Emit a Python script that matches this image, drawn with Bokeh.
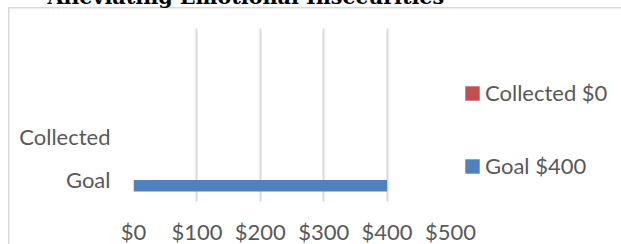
from bokeh.plotting import figure
from bokeh.models import (FactorRange, Range1d, Legend, LegendItem,
                          FixedTicker, ColumnDataSource)
from bokeh.transform import dodge
from bokeh.embed import file_html
from bokeh.resources import INLINE

# ---- data ----
title_text = "Alleviating Emotional Insecurities"
categories = ["Goal", "Collected"]
pad_categories = [" ", "  "]
goal_category = ["Goal"]
goal_amount = [400]
collected_category = ["Collected"]
collected_amount = [0]
goal_legend = "Goal $400"
collected_legend = "Collected $0"
x_ticks = [0, 100, 200, 300, 400, 500]
x_tick_labels = ["$0", "$100", "$200", "$300", "$400", "$500"]

GRAY = "#595959"
FONT = "Lato"
FS = "22px"
BORDER = "#d9d9d9"

p = figure(
    frame_width=317, frame_height=173,
    min_border_left=133, min_border_right=171, min_border_top=72, min_border_bottom=30,
    x_range=Range1d(0, 500),
    y_range=FactorRange(factors=categories + pad_categories, range_padding=0),
    output_backend="svg", toolbar_location=None,
    background_fill_color=None, border_fill_color=None,
)
# chart-area border (top and left edges visible in the window)
p.styles = {
    "margin-top": "-44px",
    "background": (f"linear-gradient({BORDER}, {BORDER}) 8px 51px / 100% 1.5px no-repeat, "
                   f"linear-gradient({BORDER}, {BORDER}) 8px 51px / 1.5px 100% no-repeat, #ffffff"),
}
p.outline_line_color = None

goal_src = ColumnDataSource(dict(cat=goal_category, amount=goal_amount))
col_src = ColumnDataSource(dict(cat=collected_category, amount=collected_amount))

r_goal = p.hbar(y=dodge("cat", -0.135, range=p.y_range), left=0, right="amount",
                height=0.27, source=goal_src, fill_color="#4F81BD", line_color=None)
r_col = p.hbar(y=dodge("cat", 0.135, range=p.y_range), left=0, right="amount",
               height=0.27, source=col_src, fill_color="#C0504D", line_color=None)

# axes
xa = p.xaxis[0]
xa.ticker = FixedTicker(ticks=x_ticks)
xa.major_label_overrides = {t: l for t, l in zip(x_ticks, x_tick_labels)}
xa.axis_line_color = None
xa.major_tick_line_color = None
xa.minor_tick_line_color = None
xa.major_tick_out = 0
xa.major_label_standoff = 16
xa.major_label_text_font = FONT
xa.major_label_text_font_size = FS
xa.major_label_text_color = GRAY

ya = p.yaxis[0]
ya.axis_line_color = None
ya.major_tick_line_color = None
ya.major_tick_out = 0
ya.major_label_standoff = 23
ya.major_label_text_font = FONT
ya.major_label_text_font_size = FS
ya.major_label_text_color = GRAY

p.xgrid.ticker = FixedTicker(ticks=x_ticks)
p.xgrid.grid_line_color = BORDER
p.xgrid.grid_line_width = 2
p.ygrid.grid_line_color = None

# title
p.title.text = title_text
p.title.text_font = "DejaVu Serif"
p.title.text_font_style = "bold"
p.title.text_font_size = "20.7px"
p.title.text_color = "black"
p.title.align = "left"
p.title.offset = -86
p.title.standoff = 40

legend = Legend(items=[LegendItem(label=collected_legend, renderers=[r_col]),
                       LegendItem(label=goal_legend, renderers=[r_goal])],
                location=(13, 22), orientation="vertical",
                glyph_width=18, glyph_height=18, label_standoff=4,
                label_text_font=FONT, label_text_font_size=FS, label_text_color=GRAY,
                spacing=46, padding=0, margin=0, border_line_color=None,
                background_fill_alpha=0)
p.add_layout(legend, "right")

open("out.html", "w").write(file_html(p, INLINE))
